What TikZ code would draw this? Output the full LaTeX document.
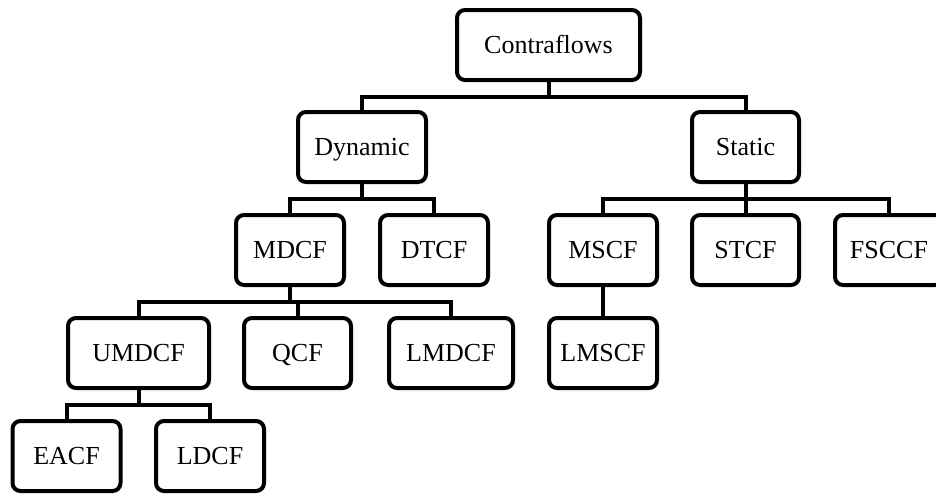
\documentclass[tikz,border=0pt]{standalone}
\usepackage{fontspec}
\setmainfont{Liberation Serif}
\begin{document}
\begin{tikzpicture}[x=0.5pt,y=-0.5pt,
  box/.style={draw,line width=2pt,rounded corners=4pt,inner sep=0pt,minimum height=35pt,text height=8.6pt,text depth=0pt,font=\fontsize{13}{15}\selectfont},
  link/.style={line width=2pt}]
\useasboundingbox (0,0) rectangle (936,493);
% level 0 and 1
\node[box,minimum width=91.5pt] (root) at (548.5,45) {Contraflows};
\node[box,minimum width=64pt] (dyn) at (362,147) {Dynamic};
\node[box,minimum width=53.5pt] (stat) at (745.5,147) {Static};
% level 2
\node[box,minimum width=54pt] (mdcf) at (290,250) {MDCF};
\node[box,minimum width=54pt] (dtcf) at (434,250) {DTCF};
\node[box,minimum width=54pt] (mscf) at (603,250) {MSCF};
\node[box,minimum width=53.5pt] (stcf) at (745.5,250) {STCF};
\node[box,minimum width=54pt] (fsccf) at (889,250) {FSCCF};
% level 3
\node[box,minimum width=70.5pt] (umdcf) at (138.5,353) {UMDCF};
\node[box,minimum width=53.5pt] (qcf) at (297.5,353) {QCF};
\node[box,minimum width=62pt] (lmdcf) at (451,353) {LMDCF};
\node[box,minimum width=54pt] (lmscf) at (603,353) {LMSCF};
% level 4
\node[box,minimum width=54pt] (eacf) at (66.5,456) {EACF};
\node[box,minimum width=54pt] (ldcf) at (210,456) {LDCF};
% bars
\coordinate (b1) at (548.5,97);
\coordinate (b2) at (362,199);
\coordinate (b3) at (745.5,199);
\coordinate (b4) at (290,302);
\coordinate (b5) at (138.5,405);
\draw[link] (root.south) -- (b1);
\draw[link] (dyn.north) |- (b1) -| (stat.north);
\draw[link] (dyn.south) -- (b2);
\draw[link] (mdcf.north) |- (b2) -| (dtcf.north);
\draw[link] (stat.south) -- (stcf.north);
\draw[link] (mscf.north) |- (b3) -| (fsccf.north);
\draw[link] (mdcf.south) -- (b4);
\draw[link] (umdcf.north) |- (b4) -| (lmdcf.north);
\draw[link] (qcf.north) -- (qcf.north |- b4);
\draw[link] (mscf) -- (lmscf);
\draw[link] (umdcf.south) -- (b5);
\draw[link] (eacf.north) |- (b5) -| (ldcf.north);
\end{tikzpicture}
\end{document}
